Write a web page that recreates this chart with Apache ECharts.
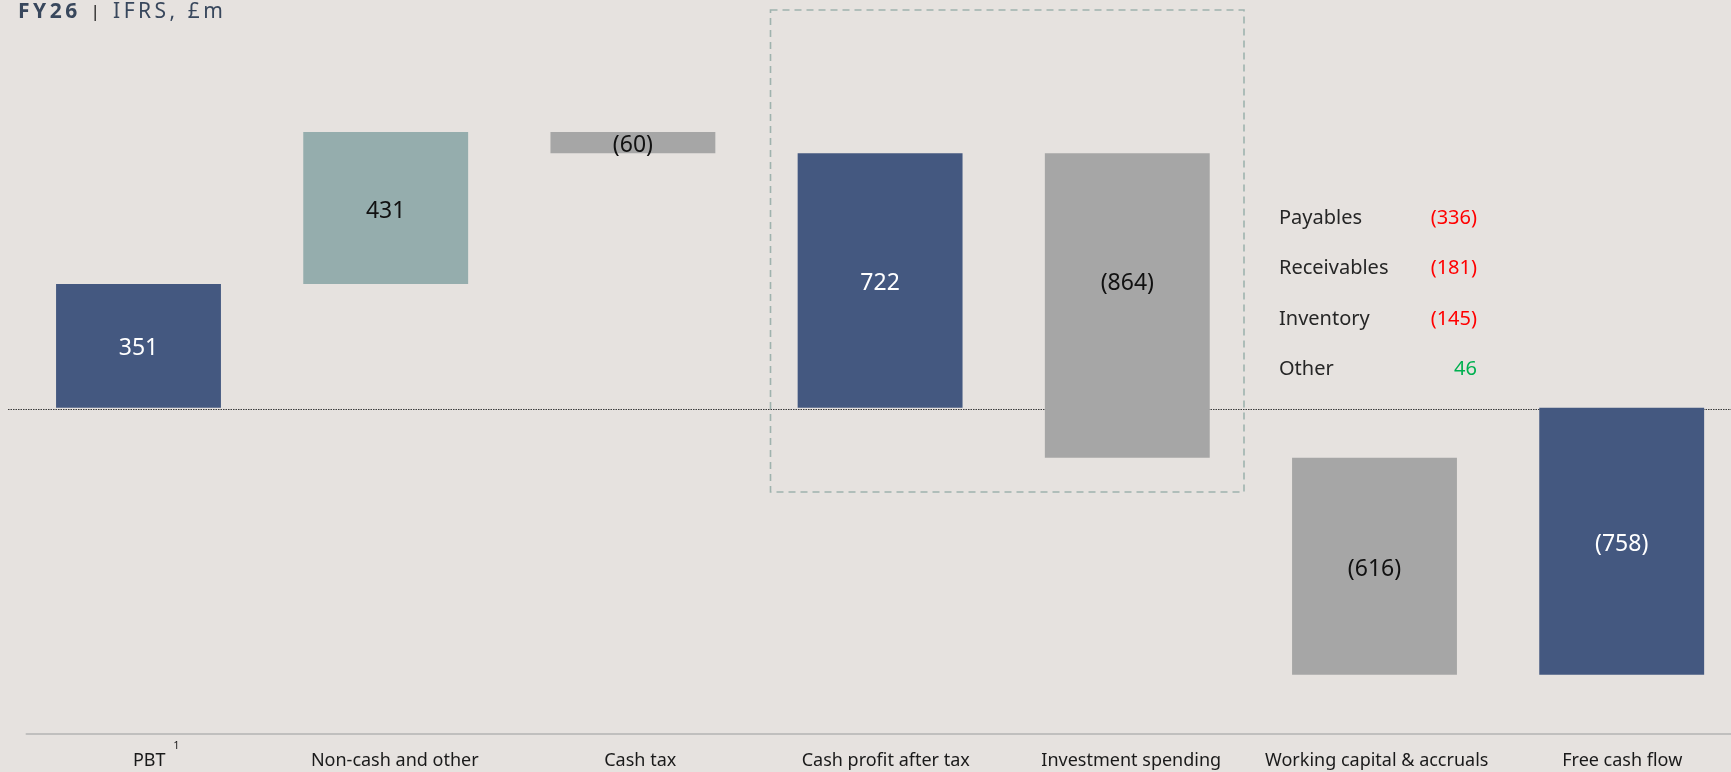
<!DOCTYPE html>
<html><head><meta charset="utf-8">
<script src="https://cdn.jsdelivr.net/npm/echarts@6/dist/echarts.min.js"></script>
<style>html,body{margin:0;padding:0;background:#e6e2df;overflow:hidden}#c{width:1731px;height:772px}</style>
</head><body><div id="c"></div>
<script>
const categories = ['PBT','Non-cash and other','Cash tax','Cash profit after tax','Investment spending','Working capital & accruals','Free cash flow'];
const values = [351, 431, -60, 722, -864, -616, -758];
const kinds = ['total','delta','delta','total','delta','delta','total'];
const wcItems = ['Payables','Receivables','Inventory','Other'];
const wcValues = [-336, -181, -145, 46];

const NAVY = '#445880', TEAL = '#95adad', GREY = '#a6a6a6', FONT = '"Noto Sans", "Open Sans", sans-serif';
const fmt = v => v < 0 ? '(' + (-v) + ')' : String(v);

let run = 0;
const bars = values.map((v, i) => {
  let s, e;
  if (kinds[i] === 'total') { s = 0; e = v; run = v; } else { s = run; e = run + v; run = e; }
  return [i, s, e, v];
});

const chart = echarts.init(document.getElementById('c'));
chart.setOption({
  backgroundColor: '#e6e2df',
  animation: false,
  grid: [
    {left: 14.9, width: 1730.4, top: 55.3, bottom: 38.7, outerBoundsMode: 'none', containLabel: false},
    {left: 26.5, width: 1718.5, top: 55.3, bottom: 38.7, outerBoundsMode: 'none', containLabel: false}
  ],
  xAxis: [
    {gridIndex: 0, type: 'category', data: categories, show: false},
    {gridIndex: 1, type: 'category', data: categories, position: 'bottom',
     axisLine: {onZero: false, lineStyle: {color: '#c0bfbe', width: 2}},
     axisTick: {show: false},
     axisLabel: {interval: 0, margin: 19, fontSize: 18, fontFamily: FONT, color: '#1a1a1a'}}
  ],
  yAxis: [
    {gridIndex: 0, type: 'value', min: -924, max: 1000, show: false, splitLine: {show: false}},
    {gridIndex: 1, type: 'value', min: -924, max: 1000, show: false, splitLine: {show: false}}
  ],
  series: [{
    type: 'custom',
    xAxisIndex: 0, yAxisIndex: 0,
    data: bars,
    renderItem: function (params, api) {
      const i = api.value(0), s = api.value(1), e = api.value(2), v = api.value(3);
      const p0 = api.coord([i, s]), p1 = api.coord([i, e]);
      const w = api.size([1, 0])[0] * 0.667;
      const kind = kinds[i];
      const color = kind === 'total' ? NAVY : (v >= 0 ? TEAL : GREY);
      const lv = (s > 0 && e < 0) || (s < 0 && e > 0) ? s / 2 : (s + e) / 2;
      const lp = api.coord([i, lv]);
      return {
        type: 'group',
        children: [
          {type: 'rect', shape: {x: p0[0] - w / 2, y: Math.min(p0[1], p1[1]), width: w, height: Math.abs(p1[1] - p0[1])},
           style: {fill: color}},
          {type: 'text', x: lp[0], y: lp[1] + 3,
           style: {text: fmt(v), fill: kind === 'total' ? '#ffffff' : '#111111', fontSize: 23, fontFamily: FONT,
                   align: 'center', verticalAlign: 'middle'}}
        ]
      };
    }
  }]
});

const y0 = chart.convertToPixel({yAxisIndex: 0}, 0);
const graphics = [
  {type: 'line', shape: {x1: 8, y1: y0 + 1.8, x2: 1731, y2: y0 + 1.8}, style: {stroke: '#3a3a3a', lineWidth: 1.2, lineDash: [1.5, 1]}},
  {type: 'rect', shape: {x: 770.5, y: 10, width: 473.5, height: 482}, style: {fill: 'none', stroke: '#9fb3ae', lineWidth: 1.6, lineDash: [7, 5]}},
  {type: 'text', x: 18, y: 12, style: {
    text: '{b|F\u2009Y\u20092\u20096}{p|   |   }{n|I\u2009F\u2009R\u2009S\u2009,\u2009 \u2009£\u2009m}',
    verticalAlign: 'middle', align: 'left',
    rich: {
      b: {fontSize: 21, fontWeight: 'bold', fontFamily: FONT, fill: '#38475c', color: '#38475c'},
      p: {fontSize: 17, fontFamily: FONT, fill: '#111', color: '#111'},
      n: {fontSize: 21, fontFamily: FONT, fill: '#38475c', color: '#38475c'}
    }}},
  {type: 'text', x: 176.5, y: 746, style: {text: '1', fontSize: 11, fontFamily: FONT, fill: '#1a1a1a', align: 'center', verticalAlign: 'middle'}}
];
wcItems.forEach((name, k) => {
  const y = 218 + k * 50.4;
  graphics.push({type: 'text', x: 1279, y: y, style: {text: name, fontSize: 20, fontFamily: FONT, fill: '#262626', align: 'left', verticalAlign: 'middle'}});
  graphics.push({type: 'text', x: 1477, y: y, style: {text: fmt(wcValues[k]), fontSize: 20, fontFamily: FONT,
    fill: wcValues[k] < 0 ? '#ff0000' : '#00b050', align: 'right', verticalAlign: 'middle'}});
});
chart.setOption({graphic: graphics});
</script></body></html>
